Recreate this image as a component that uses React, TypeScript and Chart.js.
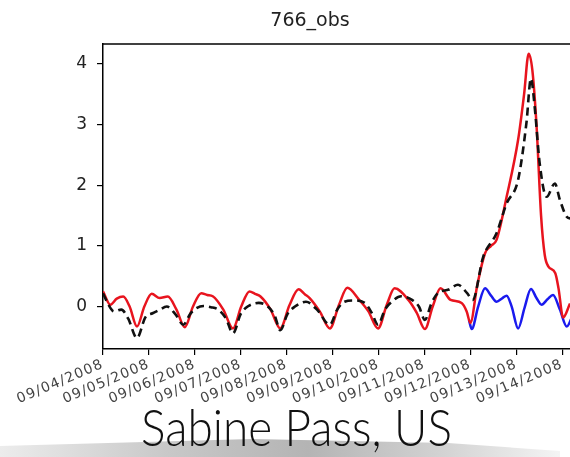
import React, { useEffect, useRef } from "react";
import { Chart, registerables } from "chart.js";

Chart.register(...registerables);

const chartTitle = "766_obs";
const stationLabel = "Sabine Pass, US";

const xTickDays = [0, 1, 2, 3, 4, 5, 6, 7, 8, 9, 10];
const xTickLabels = [
  "09/04/2008", "09/05/2008", "09/06/2008", "09/07/2008", "09/08/2008", "09/09/2008",
  "09/10/2008", "09/11/2008", "09/12/2008", "09/13/2008", "09/14/2008",
];
const yTickValues = [0, 1, 2, 3, 4];

// observed (black dashed): days since 09/04/2008, water level
const obsTimes = [0, 0.12, 0.24, 0.4, 0.55, 0.74, 0.92, 1.08, 1.22, 1.39, 1.57, 1.75, 1.9, 2.03, 2.19, 2.35, 2.51, 2.68, 2.83, 3.0, 3.15, 3.39, 3.59, 3.74, 3.86, 4.02, 4.18, 4.42, 4.66, 4.94, 5.1, 5.26, 5.46, 5.7, 5.85, 5.99, 6.14, 6.29, 6.49, 6.73, 6.88, 7.01, 7.15, 7.29, 7.53, 7.73, 7.93, 8.05, 8.28, 8.57, 8.79, 9.04, 9.22, 9.32, 9.4, 9.51, 9.66, 9.84, 9.95, 10.1, 10.2];
const obsValues = [0.22, 0.03, -0.08, -0.05, -0.2, -0.52, -0.18, -0.11, -0.06, 0.0, -0.12, -0.3, -0.12, -0.03, 0.01, -0.01, -0.05, -0.2, -0.44, -0.12, 0.0, 0.06, 0.0, -0.15, -0.39, -0.12, 0.0, 0.08, -0.05, -0.3, -0.05, 0.08, 0.1, 0.06, -0.1, -0.3, -0.05, 0.08, 0.17, 0.11, 0.0, -0.22, 0.05, 0.22, 0.28, 0.36, 0.22, 0.11, 0.82, 1.21, 1.7, 2.09, 3.02, 3.76, 3.3, 2.36, 1.81, 2.03, 1.76, 1.48, 1.45];

// model with surge (red)
const surgeTimes = [0, 0.16, 0.3, 0.44, 0.58, 0.74, 0.9, 1.06, 1.235, 1.41, 1.6, 1.78, 1.96, 2.14, 2.27, 2.39, 2.62, 2.83, 3.01, 3.19, 3.31, 3.43, 3.65, 3.86, 4.06, 4.26, 4.4, 4.5, 4.72, 4.94, 5.14, 5.32, 5.58, 5.78, 5.99, 6.18, 6.35, 6.65, 6.83, 7.01, 7.18, 7.35, 7.57, 7.81, 7.92, 8.0, 8.15, 8.32, 8.45, 8.57, 8.79, 9.04, 9.17, 9.27, 9.35, 9.44, 9.54, 9.62, 9.7, 9.85, 9.92, 10.02, 10.17];
const surgeValues = [0.25, 0.03, 0.13, 0.165, 0.0, -0.33, 0.0, 0.21, 0.14, 0.165, -0.05, -0.34, 0.0, 0.22, 0.19, 0.17, -0.05, -0.36, 0.0, 0.25, 0.21, 0.165, -0.05, -0.36, 0.02, 0.285, 0.2, 0.14, -0.08, -0.36, 0.03, 0.31, 0.11, -0.08, -0.36, 0.03, 0.3, 0.11, -0.1, -0.37, 0.0, 0.3, 0.11, 0.06, -0.08, -0.27, 0.35, 0.88, 1.0, 1.1, 1.81, 2.75, 3.5, 4.17, 3.9, 3.0, 1.5, 0.85, 0.66, 0.55, 0.3, -0.18, 0.05];

// tide only (blue)
const tideTimes = [7.97, 8.03, 8.17, 8.32, 8.45, 8.57, 8.7, 8.79, 8.9, 9.04, 9.18, 9.32, 9.44, 9.55, 9.68, 9.8, 9.95, 10.1, 10.2];
const tideValues = [-0.22, -0.37, 0.0, 0.3, 0.18, 0.08, 0.14, 0.18, 0.0, -0.36, -0.02, 0.29, 0.14, 0.03, 0.12, 0.19, -0.05, -0.33, -0.2];

const xMin = 0;
const xMax = 10.17;
const yMin = -0.7;
const yMax = 4.33;

const zip = (t: number[], v: number[]) => t.map((x, i) => ({ x, y: v[i] }));

// widen the date labels slightly (letter spacing only on the x axis labels)
const xLabelSpacing = {
  id: "xLabelSpacing",
  afterUpdate(chart: any) {
    const s = chart.scales.x;
    if (s && !s.__spaced) {
      const orig = s.drawLabels.bind(s);
      s.drawLabels = (area: any) => {
        const ctx = chart.ctx;
        ctx.save();
        ctx.letterSpacing = "1.2px";
        orig(area);
        ctx.restore();
      };
      s.__spaced = true;
    }
  },
};

const topFrame = {
  id: "topFrame",
  afterDraw(chart: any) {
    const { ctx, chartArea } = chart;
    ctx.save();
    ctx.strokeStyle = "#000";
    ctx.lineWidth = 1.5;
    ctx.beginPath();
    ctx.moveTo(chartArea.left, chartArea.top);
    ctx.lineTo(chartArea.right + 2, chartArea.top);
    ctx.stroke();
    ctx.restore();
  },
};

export default function App() {
  const ref = useRef<HTMLCanvasElement | null>(null);
  useEffect(() => {
    if (!ref.current) return;
    const chart = new Chart(ref.current, {
      type: "line",
      data: {
        datasets: [
          {
            label: "obs",
            data: zip(obsTimes, obsValues),
            borderColor: "#111",
            borderDash: [8, 5],
            borderWidth: 2.6,
            pointRadius: 0,
            cubicInterpolationMode: "monotone",
          },
          {
            label: "surge",
            data: zip(surgeTimes, surgeValues),
            borderColor: "#e8141e",
            borderWidth: 2.5,
            pointRadius: 0,
            cubicInterpolationMode: "monotone",
          },
          {
            label: "tide",
            data: zip(tideTimes, tideValues),
            borderColor: "#1a1aee",
            borderWidth: 2.5,
            pointRadius: 0,
            cubicInterpolationMode: "monotone",
          },
        ],
      },
      options: {
        animation: false,
        responsive: false,
        devicePixelRatio: 1,
        layout: { padding: { left: 50, right: 0, top: 0, bottom: 0 } },
        plugins: {
          legend: { display: false },
          tooltip: { enabled: false },
          title: {
            display: true,
            text: chartTitle,
            color: "#222",
            font: { family: "DejaVu Sans", size: 19, weight: "normal", lineHeight: 1.2 },
            padding: { top: 10, bottom: 11.2 },
          },
        },
        scales: {
          x: {
            type: "linear",
            min: xMin,
            max: xMax,
            afterBuildTicks: (s: any) => {
              s.ticks = xTickDays.map((v) => ({ value: v }));
            },
            afterFit: (s: any) => {
              s.height = 108;
              s.paddingLeft = 0;
              s.paddingRight = 0;
            },
            ticks: {
              autoSkip: false,
              minRotation: 23,
              maxRotation: 23,
              padding: 1,
              color: "#444",
              font: { family: "DejaVu Sans", size: 14 },
              callback: (_v: any, i: number) => xTickLabels[i],
            },
            grid: { drawOnChartArea: false, drawTicks: true, tickLength: 6, color: "#000", lineWidth: 1.2 },
            border: { display: true, color: "#000", width: 1.5 },
          },
          y: {
            type: "linear",
            min: yMin,
            max: yMax,
            afterBuildTicks: (s: any) => {
              s.ticks = yTickValues.map((v) => ({ value: v }));
            },
            afterFit: (s: any) => {
              s.width = 53;
              s.paddingTop = 0;
              s.paddingBottom = 0;
            },
            ticks: {
              padding: 10,
              color: "#222",
              font: { family: "DejaVu Sans", size: 17 },
              callback: (v: any) => String(v),
            },
            grid: { drawOnChartArea: false, drawTicks: true, tickLength: 6, color: "#000", lineWidth: 1.2 },
            border: { display: true, color: "#000", width: 1.5 },
          },
        },
      },
      plugins: [xLabelSpacing, topFrame],
    } as any);
    chart.draw();
    return () => chart.destroy();
  }, []);

  return (
    <div style={{ position: "absolute", left: 0, top: 0, width: 570, height: 457, background: "#fff", overflow: "hidden" }}>
      <canvas ref={ref} width={570} height={457} style={{ display: "block", position: "absolute", left: 0, top: 0 }} />
      <div
        style={{
          position: "absolute",
          left: 0,
          top: 437,
          width: 560,
          height: 20,
          background: "linear-gradient(to right, #ececec 0%, #c8c8c8 30%, #b4b4b4 55%, #d4d4d4 80%, #f4f4f4 100%)",
          clipPath: "polygon(0 9px, 45% 2px, 80% 6px, 100% 14px, 100% 100%, 0 100%)",
        }}
      />
      <div
        style={{
          position: "absolute",
          left: 141,
          top: 399,
          fontFamily: "Lato, 'Open Sans', sans-serif",
          fontWeight: 300,
          fontSize: 51,
          lineHeight: "56px",
          color: "#111",
          whiteSpace: "nowrap",
          transform: "scaleX(0.9)",
          transformOrigin: "left top",
        }}
      >
        {stationLabel}
      </div>
    </div>
  );
}
